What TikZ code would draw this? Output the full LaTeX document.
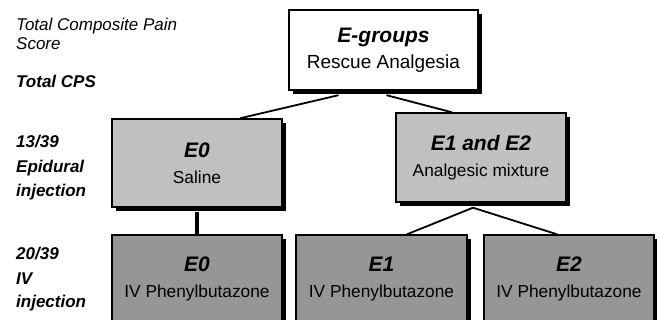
\documentclass[tikz,border=0pt]{standalone}
\usepackage{fontspec}
\setmainfont{Liberation Sans}
\usetikzlibrary{shadows,calc}

\definecolor{salinegray}{RGB}{192,192,192}
\definecolor{ivgray}{RGB}{150,150,150}
\newcommand{\grouptitle}[1]{{\fontsize{21}{26}\selectfont\bfseries\itshape #1}}

\begin{document}
\begin{tikzpicture}[x=1pt,y=-1pt,
	every node/.style={font=\fontsize{17.3}{26}\selectfont},
	box/.style={draw,line width=1.4pt,align=center,inner sep=0pt,
		drop shadow={shadow xshift=4pt,shadow yshift=-4pt,fill=black,opacity=1}},
	lbl/.style={anchor=base west,inner sep=0pt},
	link/.style={line width=1.8pt}]
	\useasboundingbox (0,0) rectangle (657,320);
	\clip (0,0) rectangle (657,320);
	\node[box,fill=white,minimum width=189,minimum height=80,font=\fontsize{19}{26}\selectfont] (egroups) at (383.5,50) {\grouptitle{E-groups}\\Rescue Analgesia};
	\node[box,fill=salinegray,minimum width=170,minimum height=88] (saline) at (197,163) {\grouptitle{E0}\\Saline};
	\node[box,fill=salinegray,minimum width=170,minimum height=89] (mixture) at (481,157.5) {\grouptitle{E1 and E2}\\Analgesic mixture};
	\node[box,fill=ivgray,minimum width=170,minimum height=88] (ivzero) at (197,279) {\grouptitle{E0}\\IV Phenylbutazone};
	\node[box,fill=ivgray,minimum width=171,minimum height=88] (ivone) at (381.5,279) {\grouptitle{E1}\\IV Phenylbutazone};
	\node[box,fill=ivgray,minimum width=170,minimum height=88] (ivtwo) at (569,279) {\grouptitle{E2}\\IV Phenylbutazone};
	\draw[link] ($(egroups.south)+(-45,4.5)$) -- ($(saline.north)+(43,0)$);
	\draw[link] ($(egroups.south)+(3,4.5)$) -- ($(mixture.north)+(-29,0)$);
	\draw[line width=4pt] ($(saline.south)+(0,4)$) -- (ivzero.north);
	\draw[link] ($(mixture.south)+(-8,5)$) -- ($(ivone.north)+(25.5,0)$);
	\draw[link] ($(mixture.south)+(-8,5)$) -- ($(ivtwo.north)+(-12,0)$);
	\node[lbl,font=\fontsize{17}{20}\selectfont\itshape] (painscore) at (16,31) {Total Composite Pain};
	\node[lbl,font=\fontsize{17}{20}\selectfont\itshape] (score) at (16,50) {Score};
	\node[lbl,font=\fontsize{17}{20}\selectfont\bfseries\itshape] (cps) at (16,88) {Total CPS};
	\node[lbl,font=\fontsize{17}{20}\selectfont\bfseries\itshape] (epicount) at (16,148) {13/39};
	\node[lbl,font=\fontsize{17}{20}\selectfont\bfseries\itshape] (epidural) at (16,173) {Epidural};
	\node[lbl,font=\fontsize{17}{20}\selectfont\bfseries\itshape] (epiinj) at (16,197) {injection};
	\node[lbl,font=\fontsize{17}{20}\selectfont\bfseries\itshape] (ivcount) at (16,260) {20/39};
	\node[lbl,font=\fontsize{17}{20}\selectfont\bfseries\itshape] (iv) at (16,285) {IV};
	\node[lbl,font=\fontsize{17}{20}\selectfont\bfseries\itshape] (ivinj) at (16,308) {injection};
\end{tikzpicture}
\end{document}
